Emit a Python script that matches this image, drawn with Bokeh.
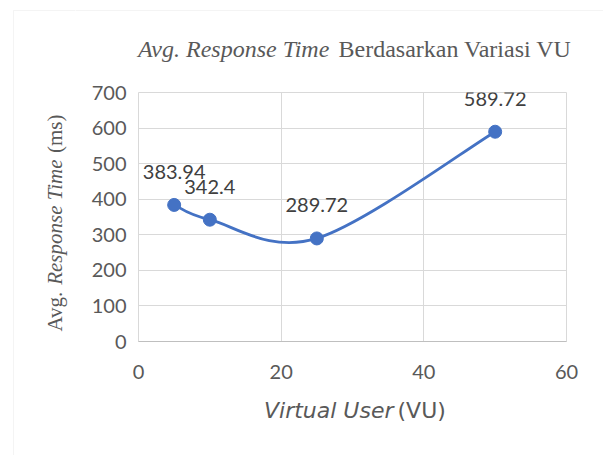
import numpy as np
from bokeh.plotting import figure
from bokeh.models import ColumnDataSource, FixedTicker, Label, BoxAnnotation
from bokeh.layouts import row, column
from bokeh.core.properties import value
from bokeh.embed import file_html
from bokeh.resources import INLINE

# ---- data ----
vu = [5, 10, 25, 50]
resp = [383.94, 342.4, 289.72, 589.72]
labels = ["383.94", "342.4", "289.72", "589.72"]
x_ticks = [0, 20, 40, 60]
y_ticks = [0, 100, 200, 300, 400, 500, 600, 700]

BLUE = "#4472c4"
GRID = "#d9d9d9"
TXT = "#595959"

LEFT_W = 75
RIGHT_W = 603 - LEFT_W
TOP_H = 70
MAIN_H = 320
BOT_H = 455 - TOP_H - MAIN_H
BASE_FIX = 8  # baseline correction (px)


def blank(w, h):
    f = figure(width=w, height=h, x_range=(0, 1), y_range=(0, 1), title=None,
               output_backend="svg", toolbar_location=None, min_border=0,
               x_axis_location=None, y_axis_location=None, frame_align=False)
    f.outline_line_color = None
    f.grid.visible = False
    f.background_fill_color = "white"
    f.border_fill_color = "white"
    return f


# ---------------- main chart ----------------
p = figure(width=RIGHT_W, height=MAIN_H, x_range=(0, 60), y_range=(0, 700),
           title=None, output_backend="svg", toolbar_location=None,
           min_border_left=63, min_border_right=37,
           min_border_top=22, min_border_bottom=49, frame_align=False)
p.outline_line_color = GRID
p.background_fill_color = "white"
p.border_fill_color = "white"

# smooth (Excel-like Catmull-Rom) curve built from the data
xs = np.array(vu, dtype=float)
ys = np.array(resp, dtype=float)
n = len(xs)
xp = np.concatenate([[xs[0]], xs, [xs[-1]]])
yp = np.concatenate([[ys[0]], ys, [ys[-1]]])
x0 = xs[:-1]; y0 = ys[:-1]; x1 = xs[1:]; y1 = ys[1:]
cx0 = x0 + (xp[2:n+1] - xp[0:n-1]) / 6.0
cy0 = y0 + (yp[2:n+1] - yp[0:n-1]) / 6.0
cx1 = x1 - (xp[3:n+2] - xp[1:n]) / 6.0
cy1 = y1 - (yp[3:n+2] - yp[1:n]) / 6.0
p.bezier(x0=x0, y0=y0, x1=x1, y1=y1, cx0=cx0, cy0=cy0, cx1=cx1, cy1=cy1,
         line_color=BLUE, line_width=2.8)

src = ColumnDataSource(dict(x=vu, y=resp, t=labels))
p.scatter("x", "y", source=src, size=13, fill_color=BLUE, line_color=BLUE)
p.text("x", "y", text="t", source=src, text_font=value("Lato"),
       text_font_size="20px", text_color="#404040", text_align="center",
       text_baseline="alphabetic", x_offset=0, y_offset=-33)

p.xaxis.ticker = FixedTicker(ticks=x_ticks)
p.yaxis.ticker = FixedTicker(ticks=y_ticks)
for ax in (p.xaxis[0], p.yaxis[0]):
    ax.major_tick_line_color = None
    ax.minor_tick_line_color = None
    ax.major_label_text_font = "Lato"
    ax.major_label_text_font_size = "20px"
    ax.major_label_text_color = TXT
p.xaxis.axis_line_color = "#bfbfbf"
p.yaxis.axis_line_color = None
p.xaxis.major_label_standoff = 17
p.yaxis.major_label_standoff = 6
p.xgrid.grid_line_color = GRID
p.ygrid.grid_line_color = GRID

# ---------------- title ----------------
t = blank(RIGHT_W, TOP_H)
t.add_layout(BoxAnnotation(left=-50, right=2000, top=TOP_H - 10, bottom=-50,
                           left_units="screen", right_units="screen",
                           top_units="screen", bottom_units="screen",
                           fill_color=None, line_color=GRID, line_width=1))
ty = TOP_H - 56.7 + BASE_FIX
t.add_layout(Label(x=137.5 - LEFT_W, y=ty, x_units="screen", y_units="screen",
                   text="Avg. Response Time", text_font="Liberation Serif",
                   text_font_style="italic", text_font_size="24px",
                   text_color=TXT, text_align="left", text_baseline="alphabetic"))
t.add_layout(Label(x=338 - LEFT_W, y=ty, x_units="screen", y_units="screen",
                   text="Berdasarkan Variasi VU", text_font="Liberation Serif",
                   text_font_size="24px",
                   text_color=TXT, text_align="left", text_baseline="alphabetic"))

# ---------------- y label ----------------
lf = blank(LEFT_W, 455)
lf.add_layout(BoxAnnotation(left=13, right=2000, top=455 - 10, bottom=-50,
                            left_units="screen", right_units="screen",
                            top_units="screen", bottom_units="screen",
                            fill_color=None, line_color=GRID, line_width=1))
ang = np.pi / 2
ybx = 62 - BASE_FIX
for txt, ypos, style in [("Avg.", 331, "normal"),
                         ("Response Time", 284.3, "italic"),
                         ("(ms)", 152.5, "normal")]:
    lf.add_layout(Label(x=ybx, y=455 - ypos, x_units="screen", y_units="screen",
                        angle=ang, text=txt, text_font="Liberation Serif",
                        text_font_style=style, text_font_size="21px",
                        text_color=TXT, text_align="left", text_baseline="alphabetic"))

# ---------------- x label ----------------
b = blank(RIGHT_W, BOT_H)
by = 455 - 418 + BASE_FIX
b.add_layout(Label(x=393 - LEFT_W, y=by, x_units="screen", y_units="screen",
                   text="Virtual User", text_font="DejaVu Sans", text_font_style="italic",
                   text_font_size="22px", text_color=TXT, text_align="right",
                   text_baseline="alphabetic"))
b.add_layout(Label(x=397 - LEFT_W, y=by, x_units="screen", y_units="screen",
                   text="(VU)", text_font="DejaVu Sans",
                   text_font_size="22px", text_color=TXT, text_align="left",
                   text_baseline="alphabetic"))

layout = row(lf, column(t, p, b, spacing=0), spacing=0)
open("out.html", "w").write(file_html(layout, INLINE))
